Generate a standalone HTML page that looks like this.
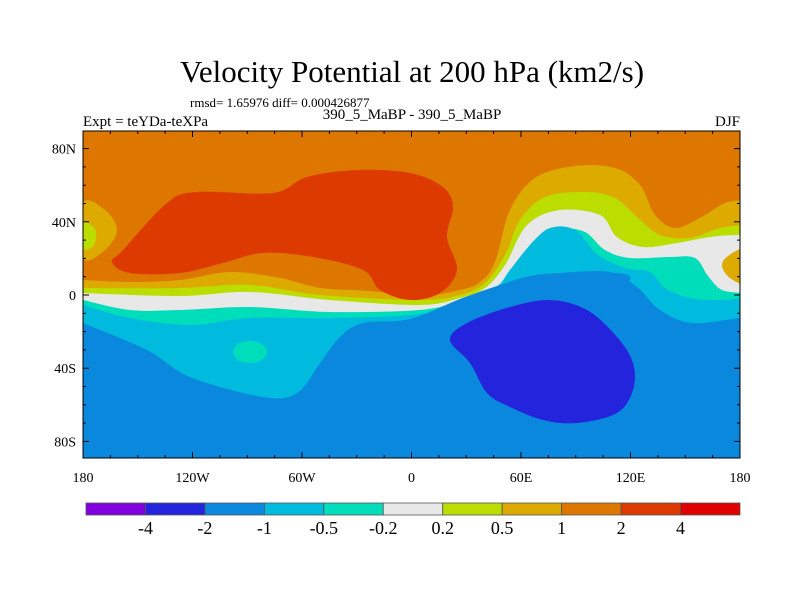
<!DOCTYPE html>
<html><head><meta charset="utf-8"><style>
body{margin:0;background:#fff}
svg text{font-family:"Liberation Serif",serif;fill:#000}
</style></head><body>
<svg id="s" width="800" height="600" xmlns="http://www.w3.org/2000/svg">
<text x="412" y="82" font-size="31" text-anchor="middle">Velocity Potential at 200 hPa (km2/s)</text>
<text x="190" y="107" font-size="13">rmsd= 1.65976 diff= 0.000426877</text>
<text x="83" y="126" font-size="15">Expt = teYDa-teXPa</text>
<text x="412" y="119" font-size="15" text-anchor="middle">390_5_MaBP - 390_5_MaBP</text>
<text x="740" y="126" font-size="15" text-anchor="end">DJF</text>
<defs><clipPath id="pc"><rect x="83" y="131" width="657" height="327"/></clipPath></defs>
<g id="field" clip-path="url(#pc)"></g>
<rect x="83" y="131" width="657" height="327" fill="none" stroke="#000" stroke-width="1"/>
<g id="axes"></g>
<g id="cbar"></g>
</svg>
<script>
const levels=["-4","-2","-1","-0.5","-0.2","0.2","0.5","1","2","4"];
const colors=["#8000E0","#2424DC","#0A88DD","#00BBDD","#00DDBB","#E8E8E8","#BBDD00","#DDAA00","#DD7700","#DD3A00","#E00000"];
const lonTicks=[-180,-120,-60,0,60,120,180];
const lonLabels=["180","120W","60W","0","60E","120E","180"];
const latTicks=[80,40,0,-40,-80];
const latLabels=["80N","40N","0","40S","80S"];
const NS="http://www.w3.org/2000/svg";
const X0=83,X1=740,Y0=131,Y1=458;
const xs=lon=>X0+(lon+180)/360*(X1-X0);
const ys=lat=>295-lat*1.83;
function mk(t,a,p){const e=document.createElementNS(NS,t);for(const k in a)e.setAttribute(k,a[k]);p.appendChild(e);return e;}
function smooth(pts,closed){
  const n=pts.length;let d="M"+pts[0][0]+","+pts[0][1];
  const g=i=>closed?pts[(i+n)%n]:pts[Math.max(0,Math.min(n-1,i))];
  const m=closed?n:n-1;
  for(let i=0;i<m;i++){const p0=g(i-1),p1=g(i),p2=g(i+1),p3=g(i+2);
    d+=` C${p1[0]+(p2[0]-p0[0])/6},${p1[1]+(p2[1]-p0[1])/6} ${p2[0]-(p3[0]-p1[0])/6},${p2[1]-(p3[1]-p1[1])/6} ${p2[0]},${p2[1]}`;}
  return d+(closed?"Z":"");
}
const F=document.getElementById("field");
let r=mk("rect",{x:X0,y:Y0,width:X1-X0,height:Y1-Y0,fill:colors[8]},F);


const bands=[
 [7,[[83,280],[130,282],[180,280],[230,272],[280,278],[320,288],[370,291],[420,296],[460,290],[480,282],[495,262],[510,210],[535,178],[575,166],[615,168],[640,185],[655,215],[675,228],[700,218],[725,203],[745,200]]],
 [6,[[83,288],[180,288],[250,285],[320,295],[420,300],[460,295],[485,283],[505,255],[520,220],[545,197],[585,192],[615,198],[638,218],[660,235],[690,238],[720,228],[745,225]]],
 [5,[[83,293],[180,296],[250,292],[330,300],[420,305],[460,298],[485,288],[505,265],[527,225],[560,210],[600,215],[617,237],[643,247],[677,243],[710,237],[735,235],[745,236]]],
 [4,[[83,300],[130,310],[180,310],[250,307],[330,312],[420,310],[460,301],[490,290],[510,275],[530,245],[545,232],[560,228],[585,232],[605,250],[630,258],[670,257],[695,258],[708,276],[722,290],[745,293]]],
 [3,[[83,305],[130,318],[190,325],[250,318],[330,318],[420,314],[460,300],[495,288],[510,270],[530,245],[550,228],[575,230],[598,255],[625,268],[650,272],[665,288],[690,298],[720,300],[745,298]]],
 [2,[[83,323],[147,350],[190,377],[263,397],[297,393],[320,363],[340,337],[363,323],[410,319],[460,299],[500,285],[530,276],[560,273],[610,272],[637,287],[660,310],[693,323],[745,317]]]
];
for(const [ci,pts] of bands){
  const d=smooth(pts,false)+` L${X1+10},${Y1+10} L${X0-10},${Y1+10}Z`;
  const p=mk("path",{d:d,fill:colors[ci]},F);
  
  
}
const blobs=[
 [9,[[112,262],[123,250],[167,203],[197,192],[273,193],[307,177],[357,170],[410,173],[443,187],[453,207],[447,237],[457,270],[440,293],[410,300],[380,290],[363,270],[313,257],[263,253],[223,263],[180,273],[130,273]]],
 [1,[[450,340],[467,323],[510,307],[550,300],[587,310],[617,337],[633,363],[633,390],[617,413],[577,423],[543,420],[510,407],[487,393],[470,363]]],
 [7,[[83,203],[105,210],[117,230],[105,250],[83,258]]],
 [6,[[83,223],[94,228],[96,238],[92,247],[83,248]]],
 [7,[[745,250],[728,256],[722,266],[730,278],[745,282]]],
 [2,[[565,278],[590,273],[625,274],[628,281],[600,285],[572,286]]]
];
for(const [ci,pts] of blobs){
  const p=mk("path",{d:smooth(pts,true),fill:colors[ci]},F);
  
  
}
let e=mk("ellipse",{cx:250,cy:352,rx:17,ry:11,fill:colors[4]},F);


const A=document.getElementById("axes");
for(let lon=-180;lon<=180;lon+=15){const x=xs(lon),L=lon%60===0?6:3;
  mk("line",{x1:x,y1:Y1,x2:x,y2:Y1-L,stroke:"#000"},A);mk("line",{x1:x,y1:Y0,x2:x,y2:Y0+L,stroke:"#000"},A);}
for(let lat=-90;lat<=90;lat+=10){const y=ys(lat),L=lat%40===0?6:3;
  if(y<Y0||y>Y1)continue;
  mk("line",{x1:X0,y1:y,x2:X0+L,y2:y,stroke:"#000"},A);mk("line",{x1:X1,y1:y,x2:X1-L,y2:y,stroke:"#000"},A);}
lonTicks.forEach((v,i)=>{const t=mk("text",{x:xs(v),y:482,"font-size":14,"text-anchor":"middle"},A);t.textContent=lonLabels[i];
  
  });
latTicks.forEach((v,i)=>{const t=mk("text",{x:76,y:ys(v)+5,"font-size":14,"text-anchor":"end"},A);t.textContent=latLabels[i];
  
  });
const C=document.getElementById("cbar");const cx0=86,cw=(740-86)/colors.length;
colors.forEach((c,i)=>{const b=mk("rect",{x:cx0+i*cw,y:503,width:cw,height:12,fill:c,stroke:"#555","stroke-width":0.8},C);
  
  });
levels.forEach((l,i)=>{const t=mk("text",{x:cx0+(i+1)*cw,y:534,"font-size":18,"text-anchor":"middle"},C);t.textContent=l;
  
  });
</script>
</body></html>
